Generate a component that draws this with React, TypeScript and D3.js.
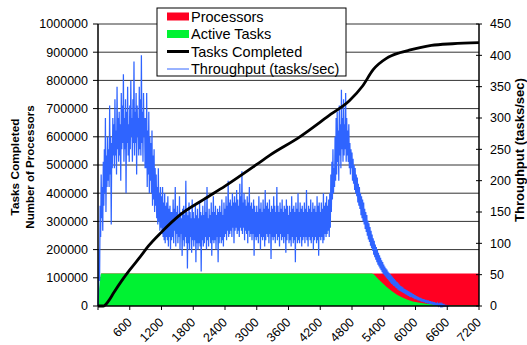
import React from 'react';
import * as d3 from 'd3';

const W = 527;
const H = 345;
const plot = { left: 98, right: 479, top: 24, bottom: 306 };
const font = '"Liberation Sans", Arial, sans-serif';

// axis ticks
const xTicks = [600, 1200, 1800, 2400, 3000, 3600, 4200, 4800, 5400, 6000, 6600, 7200];
const leftTicks = [0, 100000, 200000, 300000, 400000, 500000, 600000, 700000, 800000, 900000, 1000000];
const rightTicks = [0, 50, 100, 150, 200, 250, 300, 350, 400, 450];

// [seconds, count]
const processors: [number, number][] = [[0, 0], [60, 115000], [7200, 115000]];
const activeTasks: [number, number][] = [
  [0, 0], [60, 115000], [5170, 115000], [5300, 95000], [5450, 68000], [5650, 40000],
  [5850, 22000], [6050, 12000], [6300, 6000], [6550, 2500], [6800, 1500], [7200, 1000],
];
const tasksCompleted: [number, number][] = [
  [0, 0], [100, 0], [200, 18000], [300, 48000], [450, 90000], [600, 128000], [800, 175000],
  [950, 212000], [1200, 262000], [1550, 323000], [2000, 378000], [2400, 425000], [3000, 502000],
  [3250, 535000], [3800, 598000], [4400, 680000], [4750, 728000], [5000, 780000], [5200, 838000],
  [5450, 878000], [5700, 898000], [5900, 908000], [6300, 924000], [6700, 930000], [7200, 934000],
];

// tasks/sec, one sample every 10 s starting at t = 0
const throughputStep = 10;
const throughputValues = [
  0, 20, 90, 40, 160, 110, 210, 140, 190, 120,
  230, 160, 250, 180, 300, 150, 240, 190, 270, 200,
  250, 190, 320, 210, 270, 130, 260, 220, 300, 240,
  290, 220, 330, 240, 280, 210, 350, 250, 300, 230,
  310, 240, 290, 200, 340, 250, 320, 260, 370, 230,
  300, 250, 330, 180, 310, 260, 350, 240, 290, 230,
  320, 250, 360, 270, 300, 230, 330, 260, 390, 240,
  310, 260, 340, 210, 320, 270, 300, 240, 350, 250,
  330, 240, 400, 260, 310, 230, 340, 270, 300, 220,
  300, 220, 340, 190, 280, 210, 310, 180, 270, 200,
  260, 180, 280, 160, 240, 170, 250, 150, 220, 160,
  210, 140, 190, 130, 220, 135, 180, 120, 190, 125,
  175, 115, 190, 110, 165, 105, 180, 100, 160, 110,
  165, 105, 175, 95, 155, 110, 160, 90, 150, 105,
  150, 110, 170, 100, 155, 120, 190, 95, 150, 115,
  160, 100, 145, 110, 175, 90, 150, 115, 140, 80,
  155, 105, 160, 95, 145, 110, 200, 100, 150, 60,
  145, 100, 165, 90, 150, 110, 140, 85, 170, 105,
  150, 95, 140, 105, 160, 70, 145, 100, 155, 90,
  140, 100, 165, 95, 150, 55, 145, 105, 160, 95,
  145, 100, 170, 110, 150, 90, 190, 105, 140, 95,
  155, 110, 145, 100, 165, 80, 150, 105, 175, 100,
  150, 105, 160, 90, 145, 110, 155, 70, 150, 100,
  160, 110, 150, 100, 170, 105, 145, 95, 165, 110,
  155, 115, 175, 105, 160, 120, 200, 110, 165, 115,
  170, 120, 160, 110, 180, 125, 165, 100, 175, 120,
  165, 125, 185, 115, 170, 120, 160, 110, 195, 125,
  175, 120, 215, 115, 165, 125, 180, 105, 170, 120,
  160, 115, 175, 100, 165, 120, 190, 110, 160, 115,
  165, 105, 155, 115, 170, 80, 160, 110, 150, 105,
  160, 110, 150, 100, 175, 115, 155, 90, 165, 110,
  150, 105, 170, 110, 155, 95, 185, 105, 160, 115,
  165, 110, 155, 100, 170, 115, 150, 75, 160, 110,
  155, 105, 175, 110, 160, 100, 150, 115, 190, 105,
  160, 110, 150, 95, 165, 115, 155, 105, 170, 110,
  150, 100, 160, 110, 155, 85, 170, 105, 160, 115,
  145, 100, 160, 105, 150, 95, 175, 110, 155, 100,
  160, 105, 150, 70, 165, 110, 155, 100, 180, 105,
  150, 100, 165, 110, 155, 95, 160, 105, 150, 110,
  165, 100, 155, 110, 185, 105, 150, 95, 160, 110,
  155, 105, 170, 100, 150, 110, 165, 90, 155, 105,
  160, 110, 150, 100, 175, 105, 160, 80, 165, 110,
  150, 105, 165, 110, 155, 100, 180, 105, 160, 115,
  165, 110, 175, 115, 160, 120, 170, 110, 180, 125,
  210, 150, 230, 170, 250, 180, 220, 190, 270, 200,
  300, 210, 310, 230, 280, 200, 320, 240, 290, 220,
  345, 250, 300, 230, 330, 240, 290, 250, 340, 230,
  300, 240, 280, 230, 290, 220, 260, 210, 250, 220,
  245, 200, 235, 195, 225, 185, 220, 180, 210, 175,
  205, 165, 195, 160, 190, 155, 180, 145, 175, 140,
  170, 135, 165, 130, 155, 123, 150, 118, 145, 112,
  136, 106, 132, 102, 126, 96, 120, 92, 114, 88,
  108, 82, 104, 78, 98, 74, 94, 70, 90, 66,
  85, 63, 81, 60, 77, 57, 73, 54, 70, 51,
  66, 49, 63, 47, 60, 45, 58, 43, 55, 41,
  53, 39, 51, 37, 49, 35, 47, 34, 45, 32,
  43, 31, 41, 29, 39, 28, 38, 26, 36, 25,
  34, 24, 32, 23, 31, 22, 30, 21, 28, 20,
  27, 19, 26, 18, 25, 17, 24, 16, 23, 15,
  22, 14, 21, 14, 20, 13, 19, 12, 18, 11,
  17, 11, 16, 10, 15, 9, 14, 9, 13, 8,
  13, 7, 12, 7, 11, 6, 11, 6, 10, 5,
  10, 5, 9, 4, 9, 4, 8, 3, 8, 3,
  7, 3, 7, 2, 6, 2, 6, 2, 5, 1,
  5, 1, 4, 1, 4, 0, 3, 0, 3, 0,
  3, 0, 2, 0, 2, 0, 1, 0, 1, 0,
  0, 0, 0, 0, 0,
];

const legendItems = [
  { label: 'Processors', kind: 'rect', color: '#ff0022' },
  { label: 'Active Tasks', kind: 'rect', color: '#00f232' },
  { label: 'Tasks Completed', kind: 'thick', color: '#000000' },
  { label: 'Throughput (tasks/sec)', kind: 'thin', color: '#3366ff' },
];

export default function App() {
  const x = d3.scaleLinear().domain([0, 7200]).range([plot.left, plot.right]);
  const yLeft = d3.scaleLinear().domain([0, 1000000]).range([plot.bottom, plot.top]);
  const yRight = d3.scaleLinear().domain([0, 450]).range([plot.bottom, plot.top]);

  const area = d3
    .area<[number, number]>()
    .x((d) => x(d[0]))
    .y0(yLeft(0))
    .y1((d) => yLeft(d[1]));
  const activeArea = d3
    .area<[number, number]>()
    .x((d) => x(d[0]))
    .y0(yLeft(0))
    .y1((d) => yLeft(d[1]))
    .curve(d3.curveMonotoneX);
  const completedLine = d3
    .line<[number, number]>()
    .x((d) => x(d[0]))
    .y((d) => yLeft(d[1]))
    .curve(d3.curveMonotoneX);
  const throughputLine = d3
    .line<number>()
    .x((_, i) => x(i * throughputStep))
    .y((d) => yRight(d));

  return (
    <svg width={W} height={H} style={{ position: 'absolute', left: 0, top: 0, background: '#fff' }}>
      {/* gridlines */}
      {leftTicks.slice(1).map((t) => (
        <line key={t} x1={plot.left} x2={plot.right} y1={yLeft(t)} y2={yLeft(t)} stroke="#333" strokeWidth={1} />
      ))}

      <path d={area(processors) || ''} fill="#ff0022" />
      <path d={activeArea(activeTasks) || ''} fill="#00f232" />
      <path d={throughputLine(throughputValues) || ''} fill="none" stroke="#2f64ff" strokeWidth={1.25} />
      <path d={completedLine(tasksCompleted) || ''} fill="none" stroke="#000" strokeWidth={2.8} />

      {/* axes */}
      <line x1={plot.left} x2={plot.left} y1={plot.top} y2={plot.bottom} stroke="#000" strokeWidth={1.5} />
      <line x1={plot.right} x2={plot.right} y1={plot.top} y2={plot.bottom} stroke="#000" strokeWidth={1.5} />
      <line x1={plot.left} x2={plot.right} y1={plot.bottom} y2={plot.bottom} stroke="#000" strokeWidth={1.5} />

      {leftTicks.map((t) => (
        <g key={t}>
          <line x1={plot.left - 5} x2={plot.left} y1={yLeft(t)} y2={yLeft(t)} stroke="#000" />
          <text x={plot.left - 10} y={yLeft(t)} dy="0.35em" textAnchor="end" fontFamily={font} fontSize={12.5}>
            {t}
          </text>
        </g>
      ))}
      {rightTicks.map((t) => (
        <g key={t}>
          <line x1={plot.right - 3} x2={plot.right + 3} y1={yRight(t)} y2={yRight(t)} stroke="#000" />
          <text x={plot.right + 11} y={yRight(t)} dy="0.35em" fontFamily={font} fontSize={12.5}>
            {t}
          </text>
        </g>
      ))}
      {[0, ...xTicks].map((t) => (
        <line key={t} x1={x(t)} x2={x(t)} y1={plot.bottom} y2={plot.bottom + 4} stroke="#000" />
      ))}
      {xTicks.map((t) => (
        <text
          key={t}
          transform={`translate(${x(t) + 3},${plot.bottom + 17}) rotate(-45)`}
          textAnchor="end"
          fontFamily={font}
          fontSize={12.5}
        >
          {t}
        </text>
      ))}

      {/* axis titles */}
      <g fontFamily={font} fontWeight="bold">
        <text transform="translate(15,167) rotate(-90)" textAnchor="middle" dy="0.35em" fontSize={11.8}>
          Tasks Completed
        </text>
        <text transform="translate(30,167) rotate(-90)" textAnchor="middle" dy="0.35em" fontSize={11.5}>
          Number of Processors
        </text>
        <text transform="translate(524,150) rotate(-90)" textAnchor="middle" fontSize={13}>
          Throughput (tasks/sec)
        </text>
      </g>

      {/* legend */}
      <rect x={157} y={8} width={189} height={68} fill="#fff" stroke="#000" strokeWidth={1} />
      {legendItems.map((item, i) => {
        const cy = 16.5 + i * 17.5;
        return (
          <g key={item.label}>
            {item.kind === 'rect' ? (
              <rect x={167} y={cy - 4} width={22} height={8} fill={item.color} />
            ) : (
              <line x1={167} x2={189} y1={cy} y2={cy} stroke={item.color} strokeWidth={item.kind === 'thick' ? 3 : 1} />
            )}
            <text x={191} y={cy} dy="0.35em" fontFamily={font} fontSize={14.5}>
              {item.label}
            </text>
          </g>
        );
      })}
    </svg>
  );
}
